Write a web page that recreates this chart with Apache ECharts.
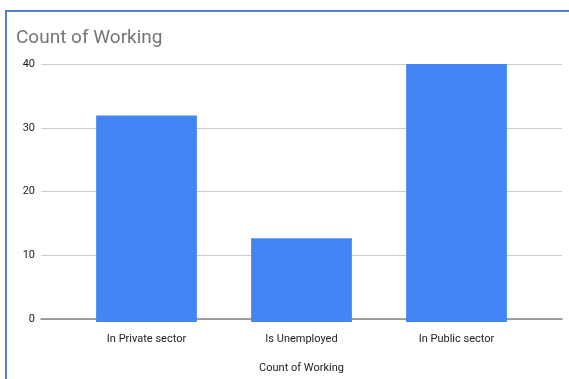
<!DOCTYPE html>
<html><head><meta charset="utf-8">
<script src="https://cdn.jsdelivr.net/npm/echarts@6/dist/echarts.min.js"></script>
<style>html,body{margin:0;padding:0;background:#fff}#c{width:569px;height:379px}</style>
</head><body><div id="c"></div>
<script>
const categories = ['In Private sector', 'Is Unemployed', 'In Public sector'];
const counts = [32, 13, 40];
const yTicks = [0, 10, 20, 30, 40];
const chartTitle = 'Count of Working';
const xAxisTitle = 'Count of Working';

const chart = echarts.init(document.getElementById('c'));
const font = 'Roboto, Arial, sans-serif';
chart.setOption({
  animation: false,
  backgroundColor: '#fff',
  title: {
    text: chartTitle, left: 11, top: 24,
    textStyle: { color: '#757575', fontSize: 19, fontWeight: 'normal', fontFamily: font }
  },
  graphic: [{
    type: 'rect', shape: { x: 6, y: 11, width: 700, height: 500 },
    style: { fill: 'none', stroke: '#4f84c4', lineWidth: 2 }, silent: true
  }],
  grid: [
    { left: 41, right: 7, top: 64, bottom: 57 },
    { left: 69, right: 35, top: 64, bottom: 57 }
  ],
  xAxis: [
    { gridIndex: 0, type: 'value', min: 0, max: 1,
      axisLine: { show: true, lineStyle: { color: '#888', width: 1.5 } },
      axisTick: { show: false }, axisLabel: { show: false }, splitLine: { show: false },
      name: xAxisTitle, nameLocation: 'middle', nameGap: 44,
      nameTextStyle: { color: '#222', fontSize: 11, fontFamily: font } },
    { gridIndex: 1, type: 'category', data: categories,
      axisLine: { show: false }, axisTick: { show: false },
      axisLabel: { color: '#222', fontSize: 11, fontFamily: font, margin: 12 } }
  ],
  yAxis: [
    { gridIndex: 0, type: 'value', min: yTicks[0], max: yTicks[yTicks.length - 1], interval: 10,
      axisLine: { show: false }, axisTick: { show: false },
      axisLabel: { color: '#222', fontSize: 11, fontFamily: font, margin: 6 },
      splitLine: { lineStyle: { color: '#ccc', width: 1 } } },
    { gridIndex: 1, type: 'value', min: yTicks[0], max: yTicks[yTicks.length - 1], interval: 10,
      show: false, splitLine: { show: false } }
  ],
  series: [{
    type: 'bar', xAxisIndex: 1, yAxisIndex: 1, data: counts,
    barCategoryGap: '35%',
    itemStyle: { color: '#4285f4' }
  }]
});
</script></body></html>
